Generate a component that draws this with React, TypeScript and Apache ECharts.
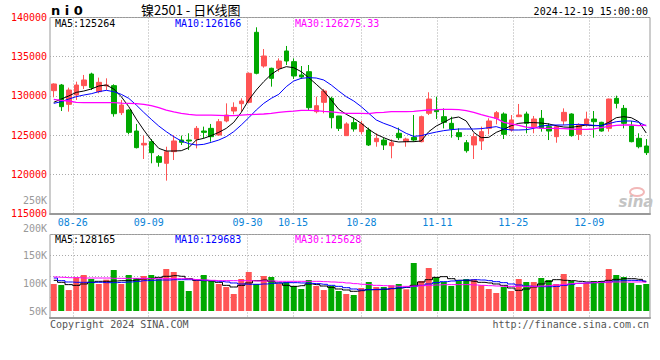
import React, { useEffect, useRef } from 'react';
import * as echarts from 'echarts';

// Trading days (MM-DD), 2024-08-21 .. 2024-12-19
const dates = [
  '08-21','08-22','08-23','08-26','08-27','08-28','08-29','08-30',
  '09-02','09-03','09-04','09-05','09-06','09-09','09-10','09-11','09-12','09-13',
  '09-18','09-19','09-20','09-23','09-24','09-25','09-26','09-27','09-30',
  '10-08','10-09','10-10','10-11','10-14','10-15','10-16','10-17','10-18',
  '10-21','10-22','10-23','10-24','10-25','10-28','10-29','10-30','10-31',
  '11-01','11-04','11-05','11-06','11-07','11-08','11-11','11-12','11-13','11-14','11-15',
  '11-18','11-19','11-20','11-21','11-22','11-25','11-26','11-27','11-28','11-29',
  '12-02','12-03','12-04','12-05','12-06','12-09','12-10','12-11','12-12','12-13',
  '12-16','12-17','12-18','12-19',
];

const labelDates = ['08-26', '09-09', '09-30', '10-15', '10-28', '11-11', '11-25', '12-09'];

const opens = [
  130670,131390,128920,130120,131310,132790,130540,131270,131310,127860,
  128200,125520,123740,124160,122250,121400,122890,124370,124370,124500,
  125520,125860,125010,126800,128070,129010,129180,138110,133810,133520,
  133520,135730,134370,132670,133090,127990,129180,129690,127440,124930,
  126590,125440,125650,124160,124370,123650,125230,124160,124710,124160,
  127780,128200,127350,126500,125310,124030,123740,124250,125860,127140,
  127690,125650,127350,127690,126080,127140,126080,124800,126800,127690,
  125100,126370,127050,126630,125860,129690,128410,126160,124590,123610,
];
const closes = [
  131520,128630,130750,131390,132030,131050,131730,131400,127730,128840,
  125350,123400,123950,122760,121530,122890,124250,124080,124250,125860,
  125350,124800,126710,127560,128540,129350,132880,132880,135090,132240,
  134450,134450,132540,132410,128500,128750,130630,127220,125860,126420,
  125780,126420,123740,124590,123740,124030,124670,124500,124370,127350,
  129600,127990,126630,125780,124800,123010,124800,125440,126800,127860,
  125100,126930,127560,126500,127050,125860,125520,126080,127900,124930,
  126290,127050,126710,125520,129600,129050,126500,124160,123520,122760,
];
const lows = [
  129820,128070,127990,129480,130880,130750,130330,130750,127350,127560,
  125100,123300,121950,121400,120970,119190,121820,123740,123100,123310,
  124590,124160,124930,126630,127650,127990,129050,132750,133600,131180,
  133090,133940,132160,132160,128200,127780,127780,125860,125520,124900,
  125440,125100,123610,123520,123100,122040,124370,123520,124160,124080,
  127560,127050,125860,124670,124370,122760,121950,123100,125100,126370,
  124500,125440,127300,125230,125230,125440,124370,124030,126290,124800,
  124370,126080,124670,125440,125440,128410,125860,124080,123310,122460,
];
const highs = [
  131600,131520,131050,131820,132670,132960,132330,132240,131480,129480,
  128300,126420,124930,124500,122460,123520,125010,124930,125230,126160,
  126080,126420,127050,129050,129180,129690,133000,138750,135980,133600,
  134790,136370,134790,133810,133940,129900,130880,129900,127450,126630,
  127220,126800,125950,125230,124670,124460,125950,124670,127560,127480,
  130460,129900,128410,127350,125860,124370,125230,126080,127140,128070,
  127900,127560,128970,127990,127440,128200,126500,126290,128410,127780,
  126500,127990,128070,126700,129650,130030,128840,126800,125230,124500,
];

const ma5 = [
  129180,129600,129990,130450,130620,130880,131260,131390,130880,129900,
  128630,127050,125650,124370,123310,122970,122970,123010,123400,124370,
  124590,124930,125350,125860,126630,127900,129480,130750,131820,132750,
  133390,133730,133600,133090,132330,131480,130620,129480,128290,127650,
  127140,126500,125740,125100,124670,124290,124120,124160,124160,124250,
  125440,126160,126630,127140,127310,126800,125350,124670,124710,125350,
  125740,126200,126500,126590,126590,126540,126420,126200,126030,125990,
  126120,126290,126200,126200,126630,127220,127350,127220,126710,125264,
];
const ma10 = [
  129050,129260,129600,129900,130110,130280,130540,130710,130540,130200,
  129690,128840,127900,127010,126160,125440,124800,124250,123910,123740,
  123820,124080,124370,124800,125440,126290,127220,128200,129050,129690,
  130200,131180,131900,132240,132330,132280,132030,131390,130620,129900,
  129350,128630,127780,126930,126500,126160,125740,125220,124840,124930,
  125180,125390,125570,125690,125780,125780,125780,125820,125950,126080,
  125780,125650,125650,125690,125860,126160,126250,126290,126290,126330,
  126370,126330,126250,126200,126460,126710,126800,126800,126630,126166,
];
const ma30 = [
  129560,129430,129350,129180,129140,129140,129140,129140,129140,129090,
  129050,129010,128920,128750,128500,128200,127950,127780,127650,127560,
  127560,127560,127520,127480,127480,127560,127610,127650,127690,127780,
  127900,127990,128070,128160,128160,128120,128030,127950,127860,127780,
  127780,127780,127730,127860,127900,127990,127990,127990,128030,128120,
  128200,128240,128290,128290,128240,128120,127900,127610,127350,127140,
  126630,126420,126250,126030,125950,125860,125860,125860,125820,125780,
  125740,125740,125780,125950,126120,126250,126290,126290,126200,126275,
];

const volumes = [
  99000,97100,88000,111100,115300,108000,99000,106800,124300,99000,
  115300,109800,113500,115300,108000,126200,120700,104400,86300,106800,
  115300,104400,99000,93500,80800,108000,120700,99000,113500,111700,
  99000,102600,95300,89900,106200,95300,88000,95300,86300,80800,
  79000,91700,102600,93500,93500,96600,99000,89300,137000,104400,
  128000,111700,102600,95300,104400,108000,107500,96600,89900,82600,
  93500,86300,108000,102600,102600,109800,106200,99000,117100,104400,
  93500,100800,104400,104400,126200,115300,111700,100800,97100,99000,
];
const volMa5 = [
  105600,102000,97800,96500,99000,102000,103800,103800,104400,105000,
  105000,106200,108000,109200,111000,112900,114100,112900,108600,105600,
  105000,104400,102000,96500,93500,96500,100800,105000,106200,103800,
  100800,96500,94700,95900,99000,97800,95300,92900,89900,88100,
  85700,86900,88700,88700,89300,90500,91700,92900,96500,102600,
  106800,111000,112300,108600,105600,105000,103800,102000,100800,99000,
  96500,91700,87500,89900,93500,99000,103800,106800,105600,105000,
  103800,102600,102600,103800,105600,107400,108600,108600,107400,103800,
];
const volMa10 = [
  109800,105000,102600,102000,102000,102000,102000,101400,101400,102000,
  102600,103800,105000,105600,106200,106200,106800,106800,106800,106200,
  105600,105000,103800,102600,100800,99000,98400,98400,99000,100200,
  100800,101400,101400,100800,100200,99600,98400,96500,94700,92300,
  89900,88100,88700,89300,89900,91100,92300,93500,94700,96500,
  99000,101400,103200,104400,105600,106200,106800,106200,105000,103200,
  101400,99000,97200,95300,94700,94100,94100,94700,96500,98400,
  100200,100800,101400,102000,102600,104400,105600,105600,105000,103800,
];
const volMa30 = [
  111700,111100,110400,110400,109800,109800,109800,109800,109200,109200,
  109200,109200,109200,108600,108600,108600,108600,108600,108000,106800,
  106200,105600,105000,105000,105000,105000,105000,104400,104400,104400,
  103800,103800,103800,103800,103800,103800,103200,102600,102000,100800,
  99600,98400,97800,96500,95900,95300,94700,94700,95300,95900,
  96500,97200,97800,97800,97800,97800,97200,96500,95900,95300,
  94700,94700,94700,94700,94700,95300,95900,97200,98400,99600,
  100200,100800,101400,102000,102600,102600,102600,102600,102600,102000,
];

const RED = '#ff5454';
const GREEN = '#00a800';
const MONO = "'DejaVu Sans Mono', monospace";
const GRIDLINE = { color: '#aaaaaa', type: [1, 2] as number[], width: 1 };

function txt(text: string, x: number, y: number, fill: string, font: string, align = 'left') {
  return {
    type: 'text',
    silent: true,
    style: {
      text, x, y, fill, font,
      align, textAlign: align,
      verticalAlign: 'middle', textVerticalAlign: 'middle',
    },
  };
}

export default function App() {
  const ref = useRef<HTMLDivElement>(null);

  useEffect(() => {
    const chart = echarts.init(ref.current as HTMLDivElement, null, { renderer: 'svg' });
    const labelSet = new Set(labelDates);
    const showAt = (_i: number, v: string) => labelSet.has(v);

    const option: any = {
      animation: false,
      backgroundColor: '#ffffff',
      grid: [
        { left: 50, top: 17.5, width: 600, height: 196, show: true, borderColor: '#999', borderWidth: 1 },
        { left: 50, top: 234.5, width: 600, height: 83.5, show: true, borderColor: '#999', borderWidth: 1 },
        { left: 50, top: 200.7, width: 600, height: 110.3 },
      ],
      xAxis: [
        { type: 'category', gridIndex: 0, data: dates, boundaryGap: true, show: false, position: 'top' },
        {
          type: 'category', gridIndex: 0, data: dates, boundaryGap: false, position: 'bottom',
          axisLine: { show: true, lineStyle: { color: '#999', width: 2 } },
          axisTick: { show: false },
          axisLabel: { interval: showAt, color: '#0a84d8', fontFamily: MONO, fontSize: 10, margin: 4 },
          splitLine: { show: true, interval: showAt, lineStyle: GRIDLINE },
        },
        {
          type: 'category', gridIndex: 1, data: dates, boundaryGap: false, position: 'bottom',
          axisLine: { show: true, lineStyle: { color: '#999', width: 2 } },
          axisTick: { show: false },
          axisLabel: { show: false },
          splitLine: { show: true, interval: showAt, lineStyle: GRIDLINE },
        },
        { type: 'category', gridIndex: 2, data: dates, boundaryGap: true, show: false },
      ],
      yAxis: [
        {
          type: 'value', gridIndex: 0, min: 115000, max: 140000, interval: 5000,
          axisLine: { show: false }, axisTick: { show: false },
          axisLabel: {
            color: '#ff0000', fontFamily: MONO, fontSize: 10, margin: 3,
            formatter: (v: number) => String(v),
          },
          splitLine: { show: true, lineStyle: GRIDLINE },
        },
        {
          type: 'value', gridIndex: 1, min: 0, max: 4, interval: 1,
          axisLine: { show: false }, axisTick: { show: false }, axisLabel: { show: false },
          splitLine: { show: true, lineStyle: GRIDLINE },
        },
        {
          type: 'value', gridIndex: 2, min: 50000, max: 250000, interval: 50000,
          axisLine: { show: false }, axisTick: { show: false }, splitLine: { show: false },
          axisLabel: {
            color: '#999999', fontFamily: MONO, fontSize: 10, margin: 3,
            formatter: (v: number) => v / 1000 + 'K',
          },
        },
      ],
      series: [
        {
          type: 'candlestick', xAxisIndex: 0, yAxisIndex: 0, barWidth: 5,
          data: dates.map((_, i) => [opens[i], closes[i], lows[i], highs[i]]),
          itemStyle: { color: RED, color0: GREEN, borderColor: RED, borderColor0: GREEN, borderWidth: 1 },
        },
        { type: 'line', xAxisIndex: 0, yAxisIndex: 0, data: ma5, symbol: 'none', lineStyle: { color: '#000000', width: 1 } },
        { type: 'line', xAxisIndex: 0, yAxisIndex: 0, data: ma10, symbol: 'none', lineStyle: { color: '#0000ff', width: 1 } },
        { type: 'line', xAxisIndex: 0, yAxisIndex: 0, data: ma30, symbol: 'none', lineStyle: { color: '#ff00ff', width: 1.3 } },
        {
          type: 'bar', xAxisIndex: 3, yAxisIndex: 2, barWidth: 6,
          data: volumes.map((v, i) => ({ value: v, itemStyle: { color: closes[i] >= opens[i] ? RED : GREEN } })),
        },
        { type: 'line', xAxisIndex: 3, yAxisIndex: 2, data: volMa5, symbol: 'none', step: 'middle', lineStyle: { color: '#000000', width: 1 } },
        { type: 'line', xAxisIndex: 3, yAxisIndex: 2, data: volMa10, symbol: 'none', step: 'middle', lineStyle: { color: '#0000ff', width: 1 } },
        { type: 'line', xAxisIndex: 3, yAxisIndex: 2, data: volMa30, symbol: 'none', step: 'middle', lineStyle: { color: '#ff00ff', width: 1 } },
      ],
      graphic: [
        txt('n i 0', 51, 10.5, '#000', "bold 13px 'DejaVu Sans', sans-serif"),
        txt('镍2501 - 日K线图', 141, 9, '#000', "13px 'Noto Sans CJK SC', sans-serif"),
        txt('2024-12-19 15:00:00', 648, 11, '#000', '10px ' + MONO, 'right'),
        txt('MA5:125264', 55, 23, '#000000', '10px ' + MONO),
        txt('MA10:126166', 175, 23, '#0000ff', '10px ' + MONO),
        txt('MA30:126275.33', 295, 23, '#ff00ff', '10px ' + MONO),
        txt('MA5:128165', 55, 239, '#000000', '10px ' + MONO),
        txt('MA10:129683', 175, 239, '#0000ff', '10px ' + MONO),
        txt('MA30:125628', 295, 239, '#ff00ff', '10px ' + MONO),
        txt('Copyright 2024 SINA.COM', 50, 324, '#555555', '10px ' + MONO),
        txt('http://finance.sina.com.cn', 649, 324, '#555555', '10px ' + MONO, 'right'),
        {
          type: 'ellipse', silent: true,
          shape: { cx: 637, cy: 192, rx: 7, ry: 4 },
          style: { fill: 'none', stroke: '#f2b8b8', lineWidth: 2 },
        },
        txt('sina', 636, 202, '#c4c4c4', "italic bold 15px 'DejaVu Sans', sans-serif", 'center'),
      ],
    };

    chart.setOption(option);
    return () => chart.dispose();
  }, []);

  return (
    <div
      ref={ref}
      style={{ position: 'fixed', left: 0, top: 0, width: 660, height: 360, background: '#fff' }}
    />
  );
}
